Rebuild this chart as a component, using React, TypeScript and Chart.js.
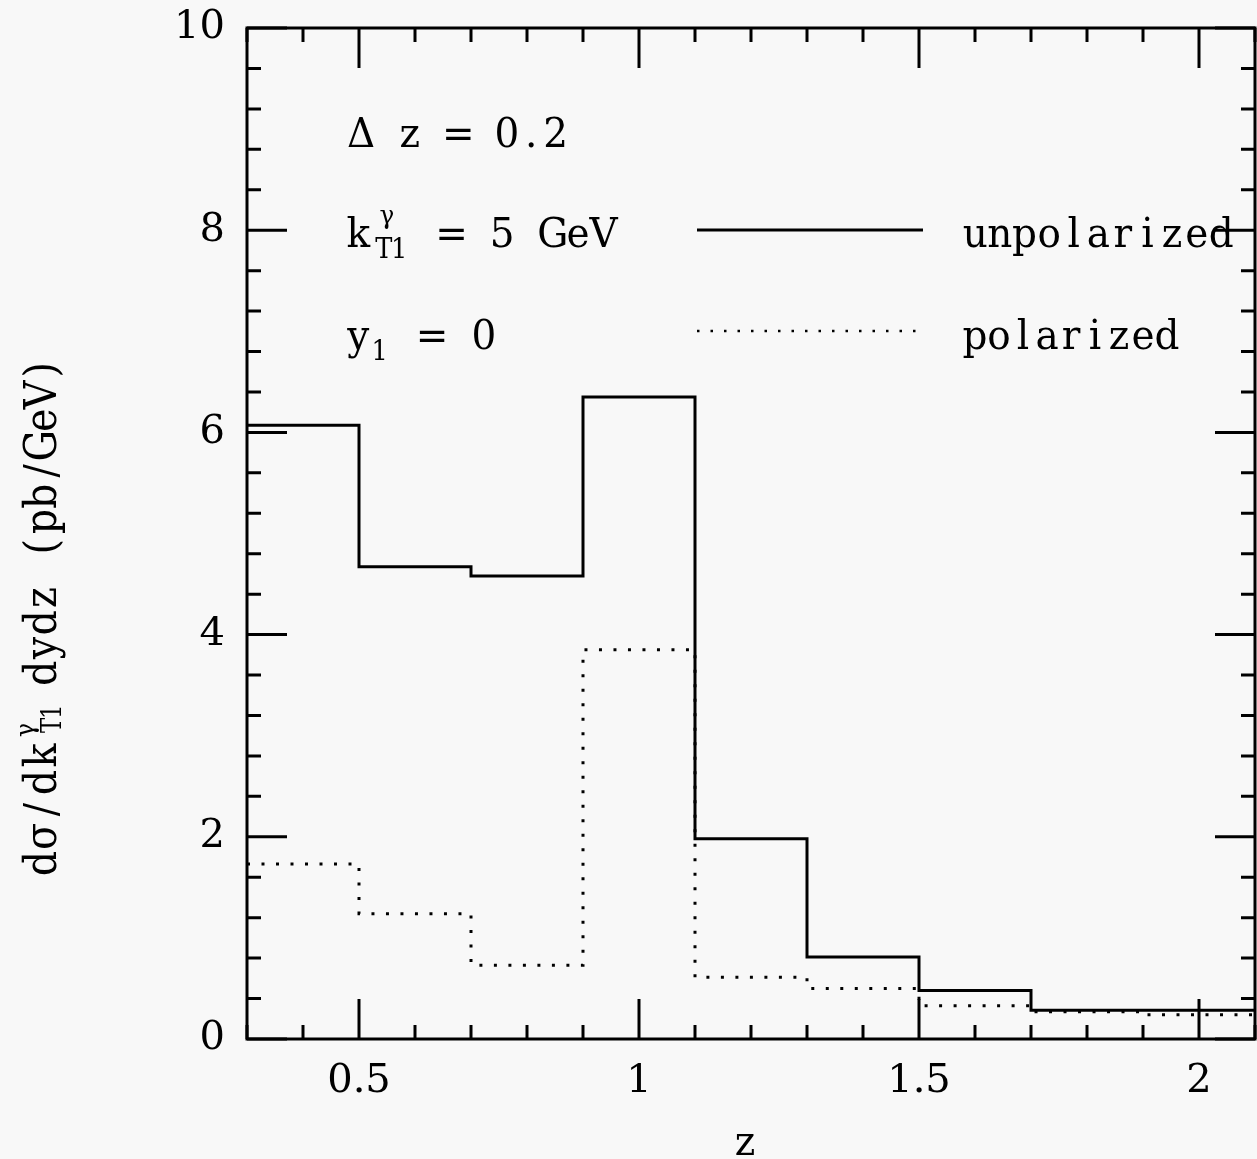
import React, { useEffect, useRef } from "react";
import { Chart, registerables } from "chart.js";

Chart.register(...registerables);

// Histogram bins in z (width 0.2) and the cross sections per bin (pb/GeV)
const binEdges = [0.3, 0.5, 0.7, 0.9, 1.1, 1.3, 1.5, 1.7, 1.9, 2.1];
const unpolarized = [6.07, 4.67, 4.58, 6.35, 1.98, 0.81, 0.48, 0.285, 0.285];
const polarized = [1.73, 1.24, 0.73, 3.85, 0.61, 0.5, 0.33, 0.27, 0.24];

const xTickValues = [0.5, 1, 1.5, 2];
const xTickLabels = ["0.5", "1", "1.5", "2"];
const yTickValues = [0, 2, 4, 6, 8, 10];
const yTickLabels = ["0", "2", "4", "6", "8", "10"];

const FONT = '"DejaVu Serif", "Liberation Serif", serif';

// Step histogram: one point per left bin edge plus a closing point at the last edge.
function stepPoints(values: number[]) {
  const pts = values.map((v, i) => ({ x: binEdges[i], y: v }));
  pts.push({ x: binEdges[binEdges.length - 1], y: values[values.length - 1] });
  return pts;
}

// Typewriter-style text: every glyph centred in a fixed-width cell, slightly condensed.
function drawMono(
  ctx: CanvasRenderingContext2D,
  text: string,
  x: number,
  baseline: number,
  cell: number,
  size: number,
  sx = 0.95
) {
  ctx.save();
  ctx.font = `${size}px ${FONT}`;
  ctx.textAlign = "center";
  ctx.textBaseline = "alphabetic";
  ctx.fillStyle = "#000";
  const chars = Array.from(text);
  chars.forEach((ch, i) => {
    if (ch === " ") return;
    ctx.save();
    ctx.translate(x + cell * (i + 0.5), baseline);
    ctx.scale(sx, 1);
    ctx.fillText(ch, 0, 0);
    ctx.restore();
  });
  ctx.restore();
}

const framePlugin = {
  id: "frameAndText",
  afterDraw(chart: any) {
    const { ctx, chartArea } = chart;
    const xs = chart.scales.x;
    const ys = chart.scales.y;
    const { left, right, top, bottom } = chartArea;

    ctx.save();
    ctx.strokeStyle = "#000";
    ctx.lineWidth = 3;
    ctx.lineCap = "butt";
    ctx.strokeRect(left, top, right - left, bottom - top);

    // inward ticks on all four sides
    const major = 40;
    const minor = 14;
    ctx.beginPath();
    for (let k = 3; k <= 21; k++) {
      const px = xs.getPixelForValue(k / 10);
      const len = k % 5 === 0 ? major : minor;
      ctx.moveTo(px, bottom);
      ctx.lineTo(px, bottom - len);
      ctx.moveTo(px, top);
      ctx.lineTo(px, top + len);
    }
    for (let k = 0; k <= 25; k++) {
      const py = ys.getPixelForValue(k * 0.4);
      const len = k % 5 === 0 ? major : minor;
      ctx.moveTo(left, py);
      ctx.lineTo(left + len, py);
      ctx.moveTo(right, py);
      ctx.lineTo(right - len, py);
    }
    ctx.stroke();

    // key lines
    ctx.beginPath();
    ctx.lineWidth = 3;
    ctx.moveTo(697, 230);
    ctx.lineTo(923, 230);
    ctx.stroke();
    ctx.beginPath();
    ctx.lineWidth = 2.5;
    ctx.setLineDash([2.5, 11]);
    ctx.moveTo(697, 331);
    ctx.lineTo(916, 331);
    ctx.stroke();
    ctx.setLineDash([]);
    ctx.restore();

    // parameter block
    drawMono(ctx, "\u0394 z = 0.2", 349, 147, 24.3, 41);
    drawMono(ctx, "k", 346, 247, 24.5, 41);
    drawMono(ctx, "\u03b3", 375, 224, 24, 26);
    drawMono(ctx, "T1", 376, 258, 15.5, 27);
    drawMono(ctx, "= 5 GeV", 439, 247, 25.3, 41);
    drawMono(ctx, "unpolarized", 963, 247, 24.6, 41);

    drawMono(ctx, "y", 346, 349, 24.5, 41);
    drawMono(ctx, "1", 372, 360, 15.5, 27);
    drawMono(ctx, "= 0", 419, 349, 26, 41);
    drawMono(ctx, "polarized", 963, 349, 24, 41);

    // x-axis title
    drawMono(ctx, "z", 733, 1155, 24, 41);

    // y-axis title, rotated; local x runs upward along the page
    ctx.save();
    const bx = 56;
    ctx.translate(bx, 0);
    ctx.rotate(-Math.PI / 2);
    drawMono(ctx, "d\u03c3/dk", -877, 0, 27, 44, 0.9);
    drawMono(ctx, "\u03b3", -740, -22, 20, 26, 0.9);
    drawMono(ctx, "T1", -732, 5, 13.5, 27, 0.85);
    drawMono(ctx, "dydz (pb/GeV)", -686, 0, 25.3, 44, 0.9);
    ctx.restore();
  },
};

export default function App() {
  const canvasRef = useRef<HTMLCanvasElement | null>(null);

  useEffect(() => {
    const canvas = canvasRef.current;
    if (!canvas) return;
    const chart = new Chart(canvas, {
      type: "line",
      data: {
        datasets: [
          {
            label: "unpolarized",
            data: stepPoints(unpolarized),
            borderColor: "#000",
            borderWidth: 3,
            stepped: true,
            pointRadius: 0,
            fill: false,
          },
          {
            label: "polarized",
            data: stepPoints(polarized),
            borderColor: "#000",
            borderWidth: 3,
            borderDash: [3, 11.5],
            stepped: true,
            pointRadius: 0,
            fill: false,
          },
        ],
      },
      options: {
        animation: false,
        responsive: false,
        devicePixelRatio: 1,
        layout: { padding: { top: 28, right: 2, left: 0, bottom: 0 } },
        plugins: { legend: { display: false }, tooltip: { enabled: false } },
        scales: {
          x: {
            type: "linear",
            min: 0.3,
            max: 2.1,
            grid: { display: false, drawTicks: false },
            border: { display: false },
            afterBuildTicks: (s: any) => {
              s.ticks = xTickValues.map((v) => ({ value: v }));
            },
            afterFit: (s: any) => {
              s.height = 120;
              s.paddingLeft = 0;
              s.paddingRight = 0;
            },
            ticks: {
              autoSkip: false,
              maxRotation: 0,
              padding: 19,
              color: "#000",
              font: { family: FONT, size: 40 },
              callback: (v: any) => xTickLabels[xTickValues.indexOf(Number(v))],
            },
          },
          y: {
            type: "linear",
            min: 0,
            max: 10,
            grid: { display: false, drawTicks: false },
            border: { display: false },
            afterBuildTicks: (s: any) => {
              s.ticks = yTickValues.map((v) => ({ value: v }));
            },
            afterFit: (s: any) => {
              s.width = 247;
              s.paddingTop = 0;
              s.paddingBottom = 0;
            },
            ticks: {
              autoSkip: false,
              padding: 22,
              color: "#000",
              font: { family: FONT, size: 40 },
              callback: (v: any) => yTickLabels[yTickValues.indexOf(Number(v))],
            },
          },
        },
      },
      plugins: [framePlugin],
    });
    return () => chart.destroy();
  }, []);

  return (
    <div
      style={{
        position: "fixed",
        left: 0,
        top: 0,
        width: 1257,
        height: 1159,
        background: "#f8f8f8",
      }}
    >
      <canvas ref={canvasRef} width={1257} height={1159} style={{ display: "block" }} />
    </div>
  );
}
